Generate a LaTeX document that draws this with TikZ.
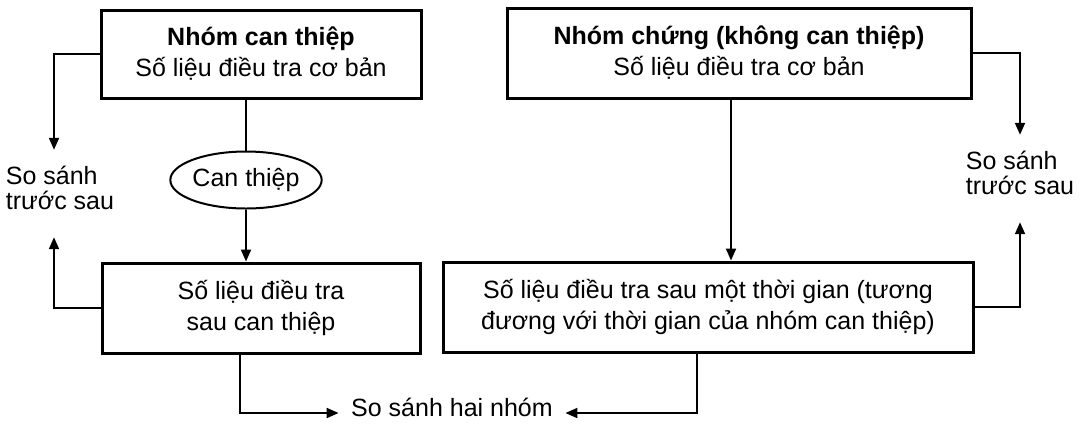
\documentclass[tikz,border=0pt]{standalone}
\usepackage{fontspec}
\setmainfont{Liberation Sans}
\usetikzlibrary{arrows.meta,positioning,shapes.geometric}

\begin{document}
\begin{tikzpicture}[x=0.5pt,y=-0.5pt,>={Triangle[length=6pt,width=5pt]},
  font=\fontsize{12.5}{15.5}\selectfont,
  box/.style={draw,line width=1.5pt,inner sep=0pt,align=center},
  side/.style={inner sep=0pt,align=left,font=\fontsize{12.5}{12.5}\selectfont},
  link/.style={line width=1pt}]
\useasboundingbox (0,0) rectangle (1090,424);
\node[box,minimum width=160pt,minimum height=44pt] (a) at (261,54) {\textbf{Nhóm can thiệp}\\Số liệu điều tra cơ bản};
\node[box,minimum width=232pt,minimum height=45pt] (b) at (739,53) {\textbf{Nhóm chứng (không can thiệp)}\\Số liệu điều tra cơ bản};
\node[draw,ellipse,line width=1pt,inner sep=0pt,minimum width=72.5pt,minimum height=28.5pt] (e) at (246,180) {Can thiệp};
\node[box,minimum width=159pt,minimum height=45pt] (c) at (261,308) {Số liệu điều tra\\sau can thiệp};
\node[box,minimum width=265pt,minimum height=45pt] (d) at (708,307) {Số liệu điều tra sau một thời gian (tương\\đương với thời gian của nhóm can thiệp)};
\node[side] (l) at (60,188) {So sánh\\trước sau};
\node[side] (r) at (1020,173) {So sánh\\trước sau};
\node[outer xsep=3pt] (s) at (452,407) {So sánh hai nhóm};
% left column
\draw[link] (e.north |- a.south) -- (e.north);
\draw[link,->] (e.south) -- (e.south |- c.north);
\draw[link,->] (a.west) -| ([xshift=-3pt,yshift=8pt]l.north);
\draw[link,->] (c.west) -| ([xshift=-3pt,yshift=-13.5pt]l.south);
% right column
\draw[link,->] ([xshift=-4pt]b.south) -- ([xshift=-4pt]b.south |- d.north);
\draw[link,->] (b.east) -| ([yshift=8pt]r.north);
\draw[link,->] (d.east) -| ([yshift=-13.5pt]r.south);
% both groups
\draw[link,->] ([xshift=-10.5pt]c.south) |- ([yshift=-3pt]s.west);
\draw[link,->] ([xshift=-5.5pt]d.south) |- ([yshift=-3pt]s.east);
\end{tikzpicture}
\end{document}
